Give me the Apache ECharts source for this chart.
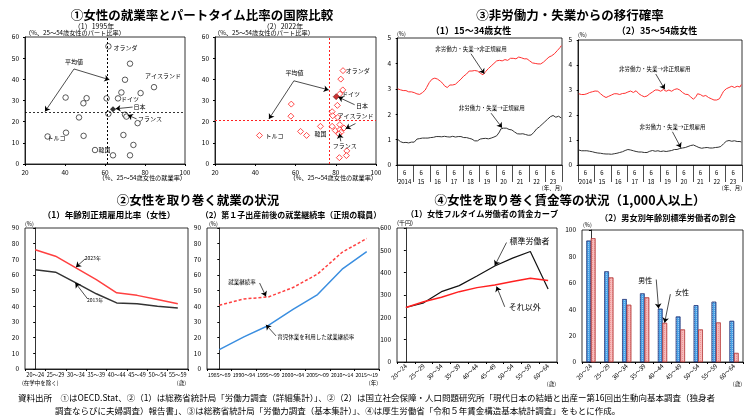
<!DOCTYPE html>
<html><head><meta charset="utf-8">
<script src="https://cdn.jsdelivr.net/npm/echarts/dist/echarts.min.js"></script>
<style>html,body{margin:0;padding:0;background:#fff}#c{width:750px;height:419px}</style>
</head><body><div id="c"></div>
<script>
const FONT = '"Noto Sans CJK JP","Noto Sans",sans-serif';

// ---------- ① scatter data ----------
const pt1995X = [61.7,72.5,70,84.5,40.3,50.8,60.8,68.2,66.5,77.8,49.2,61.7,47,70,70.7,76.3,31.3,40.5,49.3,69.2,74.2,55,64,72.5];
const pt1995Y = [55.6,47.4,39.8,36.3,31.4,31.1,31.0,33.8,31.0,33.5,28.7,23.7,22,23.3,22.4,19.3,13,14.8,13.3,13.7,9,6.6,4.1,4.1];
const japan1995 = [64, 25.9];
const avg1995 = [61.3, 24.5];
const pt2022X = [83.6,82.5,83.5,82,80.8,57.9,57.7,78.2,78.5,81,72.4,62.5,65.5,42.1,78.2,82,79.8,82,82.6,84.1,81.5,85.5,85.3,81.8];
const pt2022Y = [44.1,40.1,35,33.1,27.7,28.3,22.6,24.7,22.8,22,17.8,15.4,13.5,13.5,17.8,18.6,15.8,16.2,15,17,14.2,6.2,4,3];
const japan2022 = [80.2, 31.8];
const avg2022 = [76.9, 20.7];

// ---------- ③ monthly transition rates (2014/1 - 2023/12) ----------
const yearLabels = ['2014','15','16','17','18','19','20','21','22','23'];
const nonReg1534 = [
 3.00,2.98,2.96,2.95,2.93,2.92,2.93,2.90,2.88,2.90,2.88,2.87,
 2.85,2.83,2.80,2.82,2.78,2.80,2.85,2.88,2.95,3.05,3.15,3.25,
 3.32,3.38,3.40,3.42,3.40,3.38,3.35,3.30,3.25,3.20,3.12,3.08,
 3.05,3.10,3.15,3.18,3.15,3.20,3.18,3.22,3.28,3.35,3.38,3.45,
 3.50,3.52,3.58,3.62,3.70,3.72,3.70,3.75,3.72,3.68,3.70,3.72,
 3.62,3.58,3.55,3.60,3.68,3.75,3.80,3.85,3.90,3.95,4.00,4.05,
 4.10,4.08,4.12,4.15,4.10,4.12,4.15,4.18,4.12,4.15,4.20,4.18,
 4.20,4.22,4.18,4.22,4.25,4.28,4.22,4.20,4.18,4.15,4.18,4.15,
 4.10,4.05,4.02,4.05,4.00,3.95,3.98,4.02,3.98,4.00,4.05,4.10,
 4.15,4.20,4.25,4.22,4.30,4.35,4.38,4.42,4.50,4.55,4.62,4.70];
const reg1534 = [
 1.01,0.98,0.92,0.90,0.88,0.88,0.89,0.88,0.87,0.88,0.90,0.88,
 0.90,0.95,1.02,1.05,1.04,1.05,1.06,1.05,1.06,1.07,1.06,1.08,
 1.08,1.10,1.09,1.10,1.12,1.13,1.12,1.10,1.11,1.12,1.13,1.12,
 1.11,1.12,1.10,1.12,1.13,1.12,1.10,1.11,1.12,1.13,1.12,1.10,
 1.08,1.07,1.08,1.06,1.05,1.04,1.02,0.98,0.95,0.92,0.95,0.98,
 1.02,1.05,1.04,1.03,1.05,1.04,1.03,1.05,1.06,1.08,1.10,1.12,
 1.15,1.20,1.30,1.42,1.46,1.45,1.46,1.45,1.42,1.40,1.40,1.38,
 1.35,1.30,1.25,1.23,1.24,1.22,1.25,1.23,1.22,1.20,1.18,1.17,
 1.15,1.18,1.22,1.28,1.35,1.42,1.45,1.50,1.55,1.60,1.65,1.70,
 1.75,1.80,1.85,1.90,1.93,1.95,1.92,1.88,1.90,1.92,1.88,1.85];
const nonReg3554 = [
 2.85,2.83,2.82,2.80,2.82,2.84,2.85,2.88,2.90,2.92,2.93,2.95,
 2.96,2.98,2.95,2.90,2.85,2.80,2.76,2.72,2.70,2.72,2.75,2.78,
 2.80,2.82,2.85,2.84,2.85,2.83,2.82,2.84,2.86,2.85,2.87,2.90,
 2.92,2.95,2.96,2.93,2.90,2.95,2.97,2.92,2.85,2.80,2.78,2.75,
 2.73,2.72,2.76,2.82,2.85,2.88,2.92,2.95,3.00,3.02,3.00,2.98,
 2.95,3.00,3.02,2.98,2.95,2.98,3.00,2.97,2.95,2.98,3.02,3.05,
 3.05,3.02,3.00,2.95,2.90,2.85,2.83,2.85,2.82,2.78,2.72,2.68,
 2.63,2.65,2.75,2.85,2.88,2.82,2.78,2.75,2.80,2.78,2.72,2.70,
 2.68,2.65,2.62,2.60,2.58,2.60,2.62,2.65,2.75,2.85,2.95,3.00,
 3.05,3.08,3.10,3.12,3.15,3.13,3.10,3.12,3.15,3.08,3.12,3.22];
const reg3554 = [
 0.60,0.58,0.57,0.58,0.57,0.58,0.57,0.56,0.55,0.55,0.53,0.52,
 0.50,0.49,0.48,0.47,0.47,0.46,0.45,0.45,0.44,0.45,0.44,0.43,
 0.43,0.44,0.45,0.46,0.47,0.48,0.50,0.52,0.53,0.55,0.58,0.60,
 0.62,0.61,0.60,0.58,0.57,0.55,0.54,0.53,0.52,0.53,0.52,0.51,
 0.50,0.49,0.50,0.52,0.55,0.57,0.58,0.56,0.55,0.56,0.57,0.55,
 0.54,0.55,0.56,0.55,0.54,0.55,0.56,0.57,0.58,0.60,0.62,0.64,
 0.62,0.64,0.66,0.68,0.68,0.70,0.70,0.72,0.74,0.76,0.78,0.79,
 0.80,0.78,0.75,0.72,0.70,0.68,0.67,0.68,0.69,0.70,0.70,0.69,
 0.68,0.67,0.68,0.69,0.70,0.70,0.71,0.72,0.74,0.78,0.85,0.92,
 0.95,0.97,0.98,0.96,0.95,0.96,0.97,0.95,0.94,0.93,0.94,0.92];

// ---------- ② ----------
const ages8 = ['20～24','25～29','30～34','35～39','40～44','45～49','50～54','55～59'];
const reg2023 = [76.1,72,64.6,57,48.6,47,44.4,41.6];
const reg2013 = [63.3,61.8,55,48,42.2,41.6,40,39];
const periods = ['1985～89','1990～94','1995～99','2000～04','2005～09','2010～14','2015～19'];
const contRate = [40.7,44.7,46,52,60.6,74.5,83.3];
const contLeave = [12.4,20.5,27.8,38,47.5,63.7,74.9];

// ---------- ④ ----------
const ages9 = ['20～24','25～29','30～34','35～39','40～44','45～49','50～54','55～59','60～64'];
const wageStd = [244,265,315,342,385,430,465,495,327];
const wageOther = [244,270,290,315,333,345,360,375,365];
const shareMale = [91.9,68.6,47.6,51.9,40.3,34.4,43,45.6,31.1];
const shareFemale = [93.7,64,43.3,48.9,29.6,24.6,24.6,29.9,6.8];

const monthCats = [];
for (let y = 2014; y <= 2023; y++) for (let m = 1; m <= 12; m++) monthCats.push(y + '/' + m);

const chart = echarts.init(document.getElementById('c'), null, {renderer:'canvas'});

const axLbl = {color:'#000', fontSize:6.5, fontFamily:FONT, margin:5};
const axLine = {show:true, lineStyle:{color:'#000', width:0.8}};
const gridBox = (l,t,w,h) => ({left:l, top:t, width:w, height:h, show:true, borderColor:'#000', borderWidth:0.8, containLabel:false});

const grids = [
  gridBox(25,37,160,127),   // 0: ①(1)
  gridBox(215,37,161,127),  // 1: ①(2)
  gridBox(397,38,165,127),  // 2: ③(1)
  gridBox(578,40,164,125),  // 3: ③(2)
  gridBox(25,228,163,141),  // 4: ②(1)
  gridBox(207,228,172,141), // 5: ②(2)
  gridBox(397,228,160,134), // 6: ④(1)
  gridBox(582,230,161,132)  // 7: ④(2)
];

function valX(grid, min, max, interval) {
  return {type:'value', gridIndex:grid, min, max, interval, axisLine:axLine, splitLine:{show:false},
    axisTick:{show:true, length:2, lineStyle:{color:'#000'}}, axisLabel:Object.assign({}, axLbl)};
}
function hidX(grid, min, max) {
  return {type:'value', gridIndex:grid, min, max, show:false, splitLine:{show:false}};
}
function monthX(grid) {
  return {type:'category', gridIndex:grid, data:monthCats, boundaryGap:true, axisLine:axLine, splitLine:{show:false},
    axisTick:{show:true, length:17, interval:(i)=> i % 12 === 0, lineStyle:{color:'#000', width:0.7}},
    axisLabel:{color:'#000', fontSize:6, fontFamily:FONT, margin:3, lineHeight:9, interval:(i)=> i % 12 === 5,
      formatter:(v, i)=> '6\n' + yearLabels[Math.floor(i/12)]}};
}
function catX(grid, cats, rotate, fs) {
  return {type:'category', gridIndex:grid, data:cats, boundaryGap:true, axisLine:axLine, splitLine:{show:false},
    axisTick:{show:true, length:2, lineStyle:{color:'#000'}},
    axisLabel:{color:'#000', fontSize:fs||6, fontFamily:FONT, margin:3, interval:0, rotate:rotate||0, hideOverlap:false}};
}
function valY(grid, min, max, interval) {
  return {type:'value', gridIndex:grid, min, max, interval, axisLine:axLine, splitLine:{show:false},
    axisTick:{show:true, length:2, lineStyle:{color:'#000'}}, axisLabel:Object.assign({}, axLbl, {margin:6})};
}

const xAxes = [
  valX(0,20,100,20),        // 0
  valX(1,20,100,20),        // 1
  monthX(2),                // 2
  hidX(2,-0.5,119.5),       // 3
  monthX(3),                // 4
  hidX(3,-0.5,119.5),       // 5
  catX(4,ages8,0,5.5),      // 6
  hidX(4,-0.5,7.5),         // 7
  catX(5,periods,0,5.2),    // 8
  hidX(5,-0.5,6.5),         // 9
  catX(6,ages9,45,6),       // 10
  hidX(6,-0.5,8.5),         // 11
  catX(7,ages9,45,6),       // 12
  hidX(7,-0.5,8.5)          // 13
];
const yAxes = [
  valY(0,0,60,10), valY(1,0,60,10), valY(2,0,5,1), valY(3,0,5,1),
  valY(4,0,90,10), valY(5,0,90,10), valY(6,0,600,100), valY(7,0,100,20)
];

function annot(xi, yi, arrows, texts, fs) {
  return {type:'line', xAxisIndex:xi, yAxisIndex:yi, data:[], silent:true, animation:false,
    markLine:{silent:true, animation:false, symbol:['none','arrow'], symbolSize:5, precision:4,
      label:{show:false}, lineStyle:{color:'#000', width:0.7, type:'solid'},
      data: arrows.map(a => [{coord:[a[0],a[1]]},{coord:[a[2],a[3]]}])},
    markPoint:{silent:true, animation:false, symbol:'rect', symbolSize:1, itemStyle:{color:'rgba(0,0,0,0)'},
      label:{show:true, position:'inside', formatter:'{b}', color:'#000', fontSize:fs||6, fontFamily:FONT},
      data: texts.map(t => ({coord:[t[1],t[2]], name:t[0]}))}};
}

const zip = (a,b) => a.map((v,i)=>[v,b[i]]);

const series = [
  // ①(1)
  {type:'scatter', xAxisIndex:0, yAxisIndex:0, data:zip(pt1995X,pt1995Y), symbol:'circle', symbolSize:5.5,
    itemStyle:{color:'#fff', borderColor:'#000', borderWidth:0.8},
    markLine:{silent:true, symbol:'none', animation:false, label:{show:false},
      data:[{xAxis:avg1995[0], lineStyle:{color:'#000', type:[2,2], width:1}},
            {yAxis:avg1995[1], lineStyle:{color:'#000', type:[2,2], width:0.8}}]}},
  {type:'scatter', xAxisIndex:0, yAxisIndex:0, data:[japan1995], symbol:'diamond', symbolSize:6,
    itemStyle:{color:'#000'}},
  annot(0,0,
    [[44.5,44.9,30,24.8],[44.5,44.9,62.2,39.8],[73.8,26.9,65.3,26.1],[75.8,21.3,71.4,23.1]],
    [['平均値',44.5,48.3],['オランダ',70.3,55.1],['アイスランド',89,41.7],['ドイツ',72.5,31],
     ['日本',77.2,26.9],['フランス',82.5,21.3],['トルコ',35.8,12.6],['韓国',59.8,6.6]]),
  // ①(2)
  {type:'scatter', xAxisIndex:1, yAxisIndex:1, data:zip(pt2022X,pt2022Y), symbol:'diamond', symbolSize:6,
    itemStyle:{color:'#fff', borderColor:'#ff2020', borderWidth:1},
    markLine:{silent:true, symbol:'none', animation:false, label:{show:false},
      data:[{xAxis:avg2022[0], lineStyle:{color:'#ff2020', type:[2,2], width:1}},
            {yAxis:avg2022[1], lineStyle:{color:'#ff2020', type:[2,2], width:1}}]}},
  {type:'scatter', xAxisIndex:1, yAxisIndex:1, data:[japan2022], symbol:'diamond', symbolSize:6,
    itemStyle:{color:'#c00000', borderColor:'#400', borderWidth:0.6}},
  annot(1,1,
    [[59.2,39.3,46.8,21.3],[59.2,39.3,76.5,35],[89.4,28,81.3,31.6],[89.8,19.1,84.9,16.7],[82.5,10.7,81.8,14.4]],
    [['平均値',59.5,43],['オランダ',90.9,44.1],['ドイツ',87.6,33],['日本',93,27.7],['アイスランド',89.8,22.6],
     ['韓国',72.4,14.2],['トルコ',49.6,13.4],['フランス',84.5,8.8]]),
  // ③(1)
  {type:'line', xAxisIndex:2, yAxisIndex:2, data:nonReg1534, symbol:'none', lineStyle:{color:'#ff3030', width:1}},
  {type:'line', xAxisIndex:2, yAxisIndex:2, data:reg1534, symbol:'none', lineStyle:{color:'#333', width:1}},
  annot(3,2,
    [[53.3,4.38,63,3.59],[67.9,2.04,75.9,1.47]],
    [['非労働力・失業→非正規雇用',53.3,4.57],['非労働力・失業→正規雇用',68.4,2.24]], 5.5),
  // ③(2)
  {type:'line', xAxisIndex:4, yAxisIndex:3, data:nonReg3554, symbol:'none', lineStyle:{color:'#ff3030', width:1}},
  {type:'line', xAxisIndex:4, yAxisIndex:3, data:reg3554, symbol:'none', lineStyle:{color:'#333', width:1}},
  annot(5,3,
    [[56.4,3.64,63,3.03],[68.6,1.33,74.8,0.69]],
    [['非労働力・失業→非正規雇用',55.6,3.84],['非労働力・失業→正規雇用',68.6,1.53]], 5.5),
  // ②(1)
  {type:'line', xAxisIndex:6, yAxisIndex:4, data:reg2023, symbol:'none', lineStyle:{color:'#ff4040', width:1.5}},
  {type:'line', xAxisIndex:6, yAxisIndex:4, data:reg2013, symbol:'none', lineStyle:{color:'#333', width:1.5}},
  annot(7,4,
    [[2.46,70.4,2.0,65],[2.57,44.8,1.97,55]],
    [['2023年',2.83,71],['2013年',2.94,44.3]], 5),
  // ②(2)
  {type:'line', xAxisIndex:8, yAxisIndex:5, data:contRate, symbol:'none', lineStyle:{color:'#ff4040', width:1.5, type:[3,2]}},
  {type:'line', xAxisIndex:8, yAxisIndex:5, data:contLeave, symbol:'none', lineStyle:{color:'#3a8ee0', width:1.5}},
  annot(9,5,
    [[1.64,54.9,1.9,46.3],[2.31,21.1,1.9,28.2]],
    [['就業継続率',0.92,55.9],['育児休業を利用した就業継続率',3.93,20.5]], 5.5),
  // ④(1)
  {type:'line', xAxisIndex:10, yAxisIndex:6, data:wageStd, symbol:'none', lineStyle:{color:'#111', width:1.2}},
  {type:'line', xAxisIndex:10, yAxisIndex:6, data:wageOther, symbol:'none', lineStyle:{color:'#ff2020', width:1.5}},
  annot(11,6,
    [[5.66,535,5.0,432],[5.56,247,5.1,338]],
    [['標準労働者',6.96,540],['それ以外',6.68,245]], 8),
  // ④(2)
  {type:'bar', xAxisIndex:12, yAxisIndex:7, data:shareMale, barWidth:4.5, barGap:'0%',
    itemStyle:{color:'#4aa3e8', borderColor:'#1c2a70', borderWidth:0.5,
      decal:{symbol:'rect', symbolSize:1, dashArrayX:[1,1], dashArrayY:[1,1], color:'rgba(255,255,255,0.45)'}}},
  {type:'bar', xAxisIndex:12, yAxisIndex:7, data:shareFemale, barWidth:4.5, barGap:'0%',
    itemStyle:{color:'#f8bcbc', borderColor:'#b03030', borderWidth:0.5,
      decal:{symbol:'rect', symbolSize:1, dashArrayX:[1,1], dashArrayY:[1,1], color:'rgba(220,80,80,0.35)'}}},
  annot(13,7,
    [[3.65,62.5,3.78,40.5],[4.44,51.4,4.12,29.8]],
    [['男性',3.04,62],['女性',5.09,52.4]], 7)
];

function txt(s, x, y, size, align, weight) {
  return {type:'text', x, y, silent:true,
    style:{text:s, fill:'#000', font:(weight||'normal') + ' ' + size + 'px ' + FONT,
      align:align||'center', textAlign:align||'center', verticalAlign:'middle', textVerticalAlign:'middle'}};
}

const graphics = [
  txt('①女性の就業率とパートタイム比率の国際比較', 202, 15, 12.5, 'center', 'bold'),
  txt('③非労働力・失業からの移行確率', 570, 15, 12.5, 'center', 'bold'),
  txt('②女性を取り巻く就業の状況', 198, 200, 12.5, 'center', 'bold'),
  txt('④女性を取り巻く賃金等の状況（1,000人以上）', 570, 200, 12.5, 'center', 'bold'),
  txt('（1）1995年', 94, 26, 7),
  txt('（%、25～54歳女性のパート比率）', 25, 33, 6.2, 'left'),
  txt('（%、25～54歳女性の就業率）', 186, 178, 6.2, 'right'),
  txt('（2）2022年', 283, 26, 7),
  txt('（%、25～54歳女性のパート比率）', 214, 33, 6.2, 'left'),
  txt('（%、25～54歳女性の就業率）', 377, 178, 6.2, 'right'),
  txt('（1）15～34歳女性', 471, 31, 9, 'center', 'bold'),
  txt('(%)', 397, 34, 5.5, 'left'),
  txt('(年、月)', 562, 188, 5.5, 'right'),
  txt('（2）35～54歳女性', 657, 31, 9, 'center', 'bold'),
  txt('(%)', 578, 35, 5.5, 'left'),
  txt('(年、月)', 742, 188, 5.5, 'right'),
  txt('（1）年齢別正規雇用比率（女性）', 109, 215, 8.5, 'center', 'bold'),
  txt('(%)', 25, 224, 5.5, 'left'),
  txt('(在学中を除く)', 22, 383, 5.5, 'left'),
  txt('(歳)', 186, 383, 5.5, 'right'),
  txt('（2）第１子出産前後の就業継続率（正規の職員）', 291, 215, 8, 'center', 'bold'),
  txt('(%)', 209, 224, 5.5, 'left'),
  txt('(年)', 378, 383, 5.5, 'right'),
  txt('（1）女性フルタイム労働者の賃金カーブ', 482, 214, 8.2, 'center', 'bold'),
  txt('(千円)', 397, 223, 6, 'left'),
  txt('(歳)', 556, 384, 5.5, 'right'),
  txt('（2）男女別年齢別標準労働者の割合', 668, 218, 8.2, 'center', 'bold'),
  txt('(%)', 583, 225, 5.5, 'left'),
  txt('(歳)', 742, 384, 5.5, 'right'),
  txt('資料出所　①はOECD.Stat、②（1）は総務省統計局「労働力調査（詳細集計）」、②（2）は国立社会保障・人口問題研究所「現代日本の結婚と出産ー第16回出生動向基本調査（独身者', 18, 398, 8.5, 'left'),
  txt('調査ならびに夫婦調査）報告書」、③は総務省統計局「労働力調査（基本集計）」、④は厚生労働省「令和５年賃金構造基本統計調査」をもとに作成。', 55, 411, 8.5, 'left')
];

chart.setOption({
  animation:false,
  textStyle:{fontFamily:FONT},
  grid:grids, xAxis:xAxes, yAxis:yAxes, series:series, graphic:graphics
});
</script></body></html>
